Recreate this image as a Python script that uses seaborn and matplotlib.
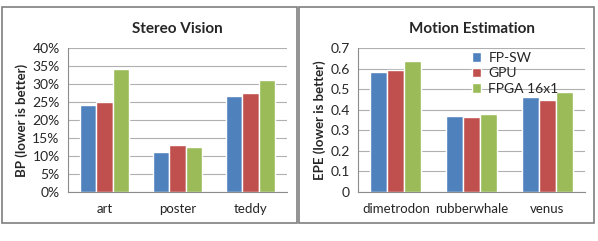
import numpy as np
import pandas as pd
import seaborn as sns
import matplotlib.pyplot as plt
from matplotlib.patches import Rectangle
from matplotlib.ticker import PercentFormatter

# data
series = ["FP-SW", "GPU", "FPGA 16x1"]
stereo_images = ["art", "poster", "teddy"]
stereo_fpsw = [24.2, 11.2, 26.8]
stereo_gpu = [25.0, 13.0, 27.5]
stereo_fpga = [34.3, 12.6, 31.0]

motion_images = ["dimetrodon", "rubberwhale", "venus"]
motion_fpsw = [0.585, 0.368, 0.460]
motion_gpu = [0.593, 0.366, 0.445]
motion_fpga = [0.638, 0.377, 0.485]

colors = ["#4F81BD", "#C0504D", "#9BBB59"]


def to_long(images, a, b, c):
    rows = []
    for name, vals in zip(series, [a, b, c]):
        for img, v in zip(images, vals):
            rows.append({"image": img, "series": name, "value": v})
    return pd.DataFrame(rows)


stereo_df = to_long(stereo_images, stereo_fpsw, stereo_gpu, stereo_fpga)
motion_df = to_long(motion_images, motion_fpsw, motion_gpu, motion_fpga)

sns.set_style("white")
plt.rcParams['font.family'] = ['Lato', 'DejaVu Sans']

W, H = 598, 241
fig = plt.figure(figsize=(W / 100, H / 100), dpi=100)

# panel frames
for x0, x1 in [(2, 297), (299, 594)]:
    fig.patches.append(Rectangle((x0 / W, 1 - 223 / H), (x1 - x0) / W, (223 - 7) / H,
                                 transform=fig.transFigure, fill=False,
                                 edgecolor="#7f7f7f", linewidth=1.2))

ax1 = fig.add_axes([68 / W, 1 - 192 / H, (287 - 68) / W, (192 - 48) / H])
ax2 = fig.add_axes([358 / W, 1 - 192 / H, (585 - 358) / W, (192 - 48) / H])


def style(ax, df, ymax, step, title, ylabel):
    sns.barplot(data=df, x="image", y="value", hue="series", palette=colors,
                width=0.67, saturation=1, ax=ax, legend=(ax is ax2))
    ax.set_ylim(0, ymax)
    ax.set_yticks(np.arange(0, ymax + step / 2, step))
    ax.set_xlim(-0.5, 2.5)
    ax.yaxis.grid(True, color="#b0b0b0", linewidth=0.8)
    ax.set_axisbelow(True)
    for s in ["top", "right"]:
        ax.spines[s].set_visible(False)
    for s in ["left", "bottom"]:
        ax.spines[s].set_color("#8c8c8c")
        ax.spines[s].set_linewidth(0.8)
    ax.set_xticks([-0.5, 0.5, 1.5, 2.5], minor=False)
    ax.set_xticklabels([])
    ax.set_xticks([0, 1, 2], minor=True)
    ax.set_xticklabels(df["image"].unique(), minor=True, fontsize=9.5)
    ax.tick_params(axis="x", which="major", length=4, color="#8c8c8c", direction="out")
    ax.tick_params(axis="x", which="minor", length=0, pad=8)
    ax.tick_params(axis="y", length=4, color="#8c8c8c", direction="out", labelsize=10, pad=2)
    ax.set_xlabel("")
    ax.set_ylabel(ylabel, fontsize=9.5, fontweight="bold", labelpad=3)
    ax.set_title(title, fontsize=11, fontweight="bold", pad=11)


style(ax1, stereo_df, 40, 5, "Stereo Vision", "BP (lower is better)")
ax1.yaxis.set_major_formatter(PercentFormatter(decimals=0))
style(ax2, motion_df, 0.7, 0.1, "Motion Estimation", "EPE (lower is better)")
ax2.set_yticklabels(["0"] + [f"{v:.1f}" for v in np.arange(0.1, 0.75, 0.1)])
ax2.legend(loc="upper right", bbox_to_anchor=(0.92, 1.03), frameon=False, fontsize=10,
           handlelength=0.7, handleheight=0.7, handletextpad=0.5, labelspacing=0.25,
           borderaxespad=0.2)

fig.savefig("out.png", dpi=100)
